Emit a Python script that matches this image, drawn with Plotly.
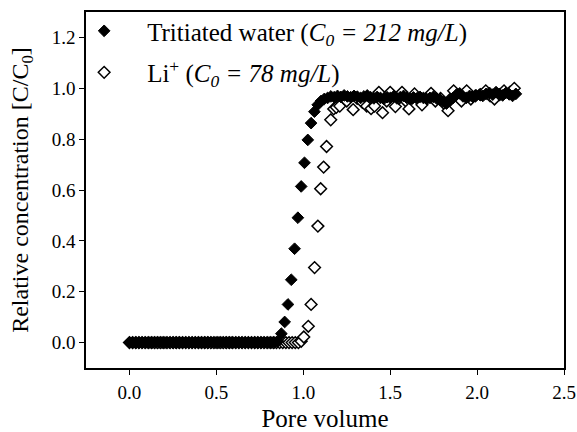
import plotly.graph_objects as go

# Breakthrough curves: relative concentration vs pore volume
tritium_pv = [
    0.000, 0.019, 0.038, 0.057, 0.076, 0.095, 0.114, 0.133, 0.152, 0.171,
    0.190, 0.209, 0.228, 0.247, 0.266, 0.285, 0.304, 0.323, 0.342, 0.361,
    0.380, 0.399, 0.418, 0.437, 0.456, 0.475, 0.494, 0.513, 0.532, 0.551,
    0.570, 0.589, 0.608, 0.627, 0.646, 0.665, 0.684, 0.703, 0.722, 0.741,
    0.760, 0.779, 0.798, 0.817, 0.836, 0.855,
    0.874, 0.893, 0.912, 0.931, 0.950, 0.969, 0.988, 1.007, 1.026, 1.045, 1.064,
    1.083, 1.102, 1.121, 1.140, 1.159, 1.178, 1.197, 1.216, 1.235, 1.254,
    1.273, 1.292, 1.311, 1.330, 1.349, 1.368, 1.387, 1.406, 1.425, 1.444,
    1.463, 1.482, 1.501, 1.520, 1.539, 1.558, 1.577, 1.596, 1.615, 1.634,
    1.653, 1.672, 1.691, 1.710, 1.729, 1.748, 1.767, 1.786, 1.805, 1.824,
    1.843, 1.862, 1.881, 1.900, 1.919, 1.938, 1.957, 1.976, 1.995, 2.014,
    2.033, 2.052, 2.071, 2.090, 2.109, 2.128, 2.147, 2.166, 2.185, 2.204, 2.223,
]
tritium_c = [
    0.000, 0.000, 0.000, 0.000, 0.000, 0.000, 0.000, 0.000, 0.000, 0.000,
    0.000, 0.000, 0.000, 0.000, 0.000, 0.000, 0.000, 0.000, 0.000, 0.000,
    0.000, 0.000, 0.000, 0.000, 0.000, 0.000, 0.000, 0.000, 0.000, 0.000,
    0.000, 0.000, 0.000, 0.000, 0.000, 0.000, 0.000, 0.000, 0.000, 0.000,
    0.000, 0.000, 0.000, 0.000, 0.000, 0.005,
    0.035, 0.081, 0.150, 0.247, 0.369, 0.491, 0.614, 0.707, 0.797, 0.863, 0.908,
    0.935, 0.950, 0.958, 0.962, 0.968, 0.965, 0.970, 0.966, 0.972, 0.968,
    0.965, 0.970, 0.967, 0.962, 0.968, 0.972, 0.965, 0.960, 0.966, 0.962,
    0.958, 0.965, 0.962, 0.968, 0.960, 0.965, 0.970, 0.962, 0.958, 0.964,
    0.960, 0.966, 0.962, 0.958, 0.962, 0.966, 0.960, 0.955, 0.948, 0.940,
    0.950, 0.962, 0.975, 0.980, 0.968, 0.962, 0.970, 0.966, 0.972, 0.975,
    0.970, 0.978, 0.982, 0.975, 0.985, 0.978, 0.972, 0.982, 0.976, 0.970, 0.978,
]

lithium_pv = [
    0.000, 0.018, 0.036, 0.054, 0.072, 0.090, 0.108, 0.126, 0.144, 0.162,
    0.180, 0.198, 0.216, 0.234, 0.252, 0.270, 0.288, 0.306, 0.324, 0.342,
    0.360, 0.378, 0.396, 0.414, 0.432, 0.450, 0.468, 0.486, 0.504, 0.522,
    0.540, 0.558, 0.576, 0.594, 0.612, 0.630, 0.648, 0.666, 0.684, 0.702,
    0.720, 0.738, 0.756, 0.774, 0.792, 0.810, 0.828, 0.846, 0.864, 0.882,
    0.900, 0.918, 0.936, 0.954, 0.972, 0.988,
    1.003, 1.029, 1.045, 1.065, 1.084, 1.100, 1.117, 1.134, 1.158, 1.175, 1.190,
    1.210, 1.250, 1.287, 1.310, 1.340, 1.365, 1.390, 1.410, 1.435, 1.456,
    1.480, 1.500, 1.530, 1.550, 1.568, 1.590, 1.608, 1.625, 1.640, 1.660,
    1.683, 1.710, 1.735, 1.760, 1.790, 1.810, 1.833, 1.850, 1.865, 1.885,
    1.910, 1.940, 1.964, 1.990, 2.020, 2.050, 2.075, 2.100, 2.130, 2.155,
    2.190, 2.214,
]
lithium_c = [
    0.000, 0.000, 0.000, 0.000, 0.000, 0.000, 0.000, 0.000, 0.000, 0.000,
    0.000, 0.000, 0.000, 0.000, 0.000, 0.000, 0.000, 0.000, 0.000, 0.000,
    0.000, 0.000, 0.000, 0.000, 0.000, 0.000, 0.000, 0.000, 0.000, 0.000,
    0.000, 0.000, 0.000, 0.000, 0.000, 0.000, 0.000, 0.000, 0.000, 0.000,
    0.000, 0.000, 0.000, 0.000, 0.000, 0.000, 0.000, 0.000, 0.000, 0.000,
    0.000, 0.000, 0.000, 0.000, 0.000, 0.005,
    0.022, 0.064, 0.150, 0.295, 0.458, 0.605, 0.690, 0.771, 0.876, 0.919, 0.925,
    0.930, 0.950, 0.916, 0.960, 0.945, 0.930, 0.920, 0.930, 0.984, 0.904,
    0.950, 0.984, 0.928, 0.960, 0.984, 0.950, 0.919, 0.960, 0.978, 0.960,
    0.935, 0.960, 0.980, 0.950, 0.960, 0.940, 0.912, 0.960, 0.990, 0.970,
    0.950, 0.990, 0.958, 0.970, 0.975, 0.990, 0.970, 0.958, 0.975, 0.990,
    0.985, 1.000,
]

x_ticks = [0.0, 0.5, 1.0, 1.5, 2.0, 2.5]
y_ticks = [0.0, 0.2, 0.4, 0.6, 0.8, 1.0, 1.2]

serif = "Liberation Serif, Times New Roman, serif"

fig = go.Figure()

fig.add_trace(go.Scatter(
    x=lithium_pv, y=lithium_c, mode="markers",
    name="Li<sup>+</sup> (<i>C<sub>0</sub> = 78 mg/L</i>)",
    legendrank=2, legendgroup="li",
    marker=dict(symbol="diamond", size=9, color="white",
                line=dict(color="black", width=1.5)),
))
fig.add_trace(go.Scatter(
    x=tritium_pv, y=tritium_c, mode="markers",
    name="Tritiated water (<i>C<sub>0</sub> = 212 mg/L</i>)",
    legendrank=1, legendgroup="h3",
    marker=dict(symbol="diamond", size=9, color="black",
                line=dict(color="black", width=1)),
))

axis_common = dict(
    showline=True, linecolor="black", linewidth=1.5, mirror=True,
    ticks="outside", ticklen=5, tickwidth=1.2, tickcolor="black",
    showgrid=False, zeroline=False, automargin=False,
    tickfont=dict(family=serif, size=19, color="black"),
    tickformat=".1f",
)

fig.update_layout(
    width=577, height=432,
    margin=dict(l=86, r=13, t=12, b=64, autoexpand=False),
    paper_bgcolor="white", plot_bgcolor="white",
    font=dict(family=serif, color="black"),
    xaxis=dict(range=[-0.25, 2.5], tickvals=x_ticks, ticklabelstandoff=1,
               title=dict(text="Pore volume", font=dict(family=serif, size=25),
                          standoff=17),
               **axis_common),
    yaxis=dict(range=[-0.1, 1.3], tickvals=y_ticks,
               title=dict(text="Relative concentration [C/C<sub>0</sub>]",
                          font=dict(family=serif, size=24), standoff=16),
               **axis_common),
    legend=dict(x=-0.052, y=1.011, xanchor="left", yanchor="top",
                bgcolor="rgba(0,0,0,0)", borderwidth=0,
                font=dict(family=serif, size=25, color="black"),
                tracegroupgap=6, itemwidth=76),
    showlegend=True,
)

fig.write_html("out.html")
